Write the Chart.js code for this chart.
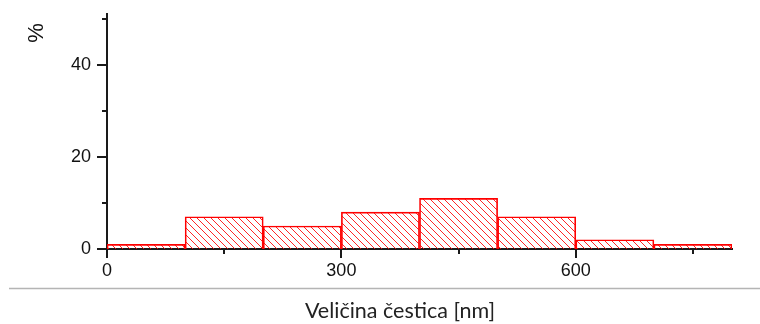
<!DOCTYPE html>
<html>
<head>
<meta charset="utf-8">
<script src="https://cdn.jsdelivr.net/npm/chart.js@4/dist/chart.umd.min.js"></script>
<style>
  html, body { margin: 0; padding: 0; background: #fff; }
  #histo { display: block; }
</style>
</head>
<body>
<canvas id="histo" width="760" height="324"></canvas>
<script>
// particle size distribution, 100 nm bins
const binStarts = [0, 100, 200, 300, 400, 500, 600, 700];
const binWidth = 100;
const percents = [1, 7, 5, 8, 11, 7, 2, 1];

// axis ticks
const xMajor = [0, 300, 600];
const xMinor = [150, 450, 750];
const yMajor = [0, 20, 40];
const yMinor = [10, 30, 50];

const xTitle = "Veličina čestica [nm]";
const yTitle = "%";

const axisColor = "#1a1a1a";

function makeHatch() {
  const s = 7;
  const c = document.createElement("canvas");
  c.width = s;
  c.height = s;
  const g = c.getContext("2d");
  g.strokeStyle = "rgba(255, 0, 0, 0.85)";
  g.lineWidth = 1;
  g.beginPath();
  for (let k = -1; k <= 1; k++) {
    g.moveTo(k * s, 0);
    g.lineTo(k * s + s, s);
  }
  g.stroke();
  return g.createPattern(c, "repeat");
}

// tick marks (long major, short minor), axis titles and the rule under the plot
const decor = {
  id: "decor",
  afterDraw(chart) {
    const ctx = chart.ctx;
    const x = chart.scales.x;
    const y = chart.scales.y;
    const left = chart.chartArea.left;
    const bottom = chart.chartArea.bottom;
    ctx.save();
    ctx.strokeStyle = axisColor;
    ctx.lineWidth = 2;
    ctx.beginPath();
    xMajor.forEach(v => { const p = Math.round(x.getPixelForValue(v)); ctx.moveTo(p, bottom); ctx.lineTo(p, bottom + 9); });
    xMinor.forEach(v => { const p = Math.round(x.getPixelForValue(v)); ctx.moveTo(p, bottom); ctx.lineTo(p, bottom + 5); });
    yMajor.forEach(v => { const p = Math.round(y.getPixelForValue(v)); ctx.moveTo(left, p); ctx.lineTo(left - 10, p); });
    yMinor.forEach(v => { const p = Math.round(y.getPixelForValue(v)); ctx.moveTo(left, p); ctx.lineTo(left - 5, p); });
    ctx.stroke();

    // grey rule
    ctx.strokeStyle = "#b4b4b4";
    ctx.lineWidth = 1.5;
    ctx.beginPath();
    ctx.moveTo(9, 288.5);
    ctx.lineTo(760, 288.5);
    ctx.stroke();

    // "%" rotated
    ctx.fillStyle = "#111";
    ctx.font = "22px 'Liberation Sans', Arial, sans-serif";
    ctx.textAlign = "center";
    ctx.textBaseline = "middle";
    ctx.save();
    ctx.translate(37, 33);
    ctx.rotate(-Math.PI / 2);
    ctx.fillText(yTitle, 0, 0);
    ctx.restore();

    ctx.font = "21.5px Lato, 'Open Sans', sans-serif";
    ctx.fillStyle = "#222";
    ctx.textBaseline = "alphabetic";
    ctx.fillText(xTitle, 400, 318);
    ctx.restore();
  }
};

const ctx = document.getElementById("histo").getContext("2d");
const chart = new Chart(ctx, {
  type: "bar",
  data: {
    datasets: [
      {
        data: binStarts.map((s, i) => ({ x: s + binWidth / 2, y: percents[i] })),
        backgroundColor: makeHatch(),
        borderColor: "#ff0000",
        borderWidth: 1,
        borderSkipped: "bottom",
        barPercentage: 1,
        categoryPercentage: 1,
      },
    ],
  },
  options: {
    responsive: false,
    animation: false,
    layout: { padding: { top: 14, right: 28, left: 0, bottom: 0 } },
    plugins: { legend: { display: false }, tooltip: { enabled: false } },
    scales: {
      x: {
        type: "linear",
        min: 0,
        max: 800,
        offset: false,
        grid: { display: false, drawTicks: false },
        border: { display: true, color: axisColor, width: 2 },
        afterBuildTicks: s => { s.ticks = xMajor.map(v => ({ value: v })); },
        ticks: {
          padding: 11,
          color: "#111",
          font: { family: "'Liberation Sans', Arial, sans-serif", size: 18 },
          maxRotation: 0,
        },
        afterFit: s => { s.height = 75; s.paddingLeft = 0; s.paddingRight = 0; },
      },
      y: {
        min: 0,
        max: 51,
        grid: { display: false, drawTicks: false },
        border: { display: true, color: axisColor, width: 2 },
        afterBuildTicks: s => { s.ticks = yMajor.map(v => ({ value: v })); },
        ticks: {
          padding: 16,
          color: "#111",
          font: { family: "'Liberation Sans', Arial, sans-serif", size: 18 },
        },
        afterFit: s => { s.width = 107; s.paddingTop = 0; s.paddingBottom = 0; },
      },
    },
  },
  plugins: [decor],
});
</script>
</body>
</html>
